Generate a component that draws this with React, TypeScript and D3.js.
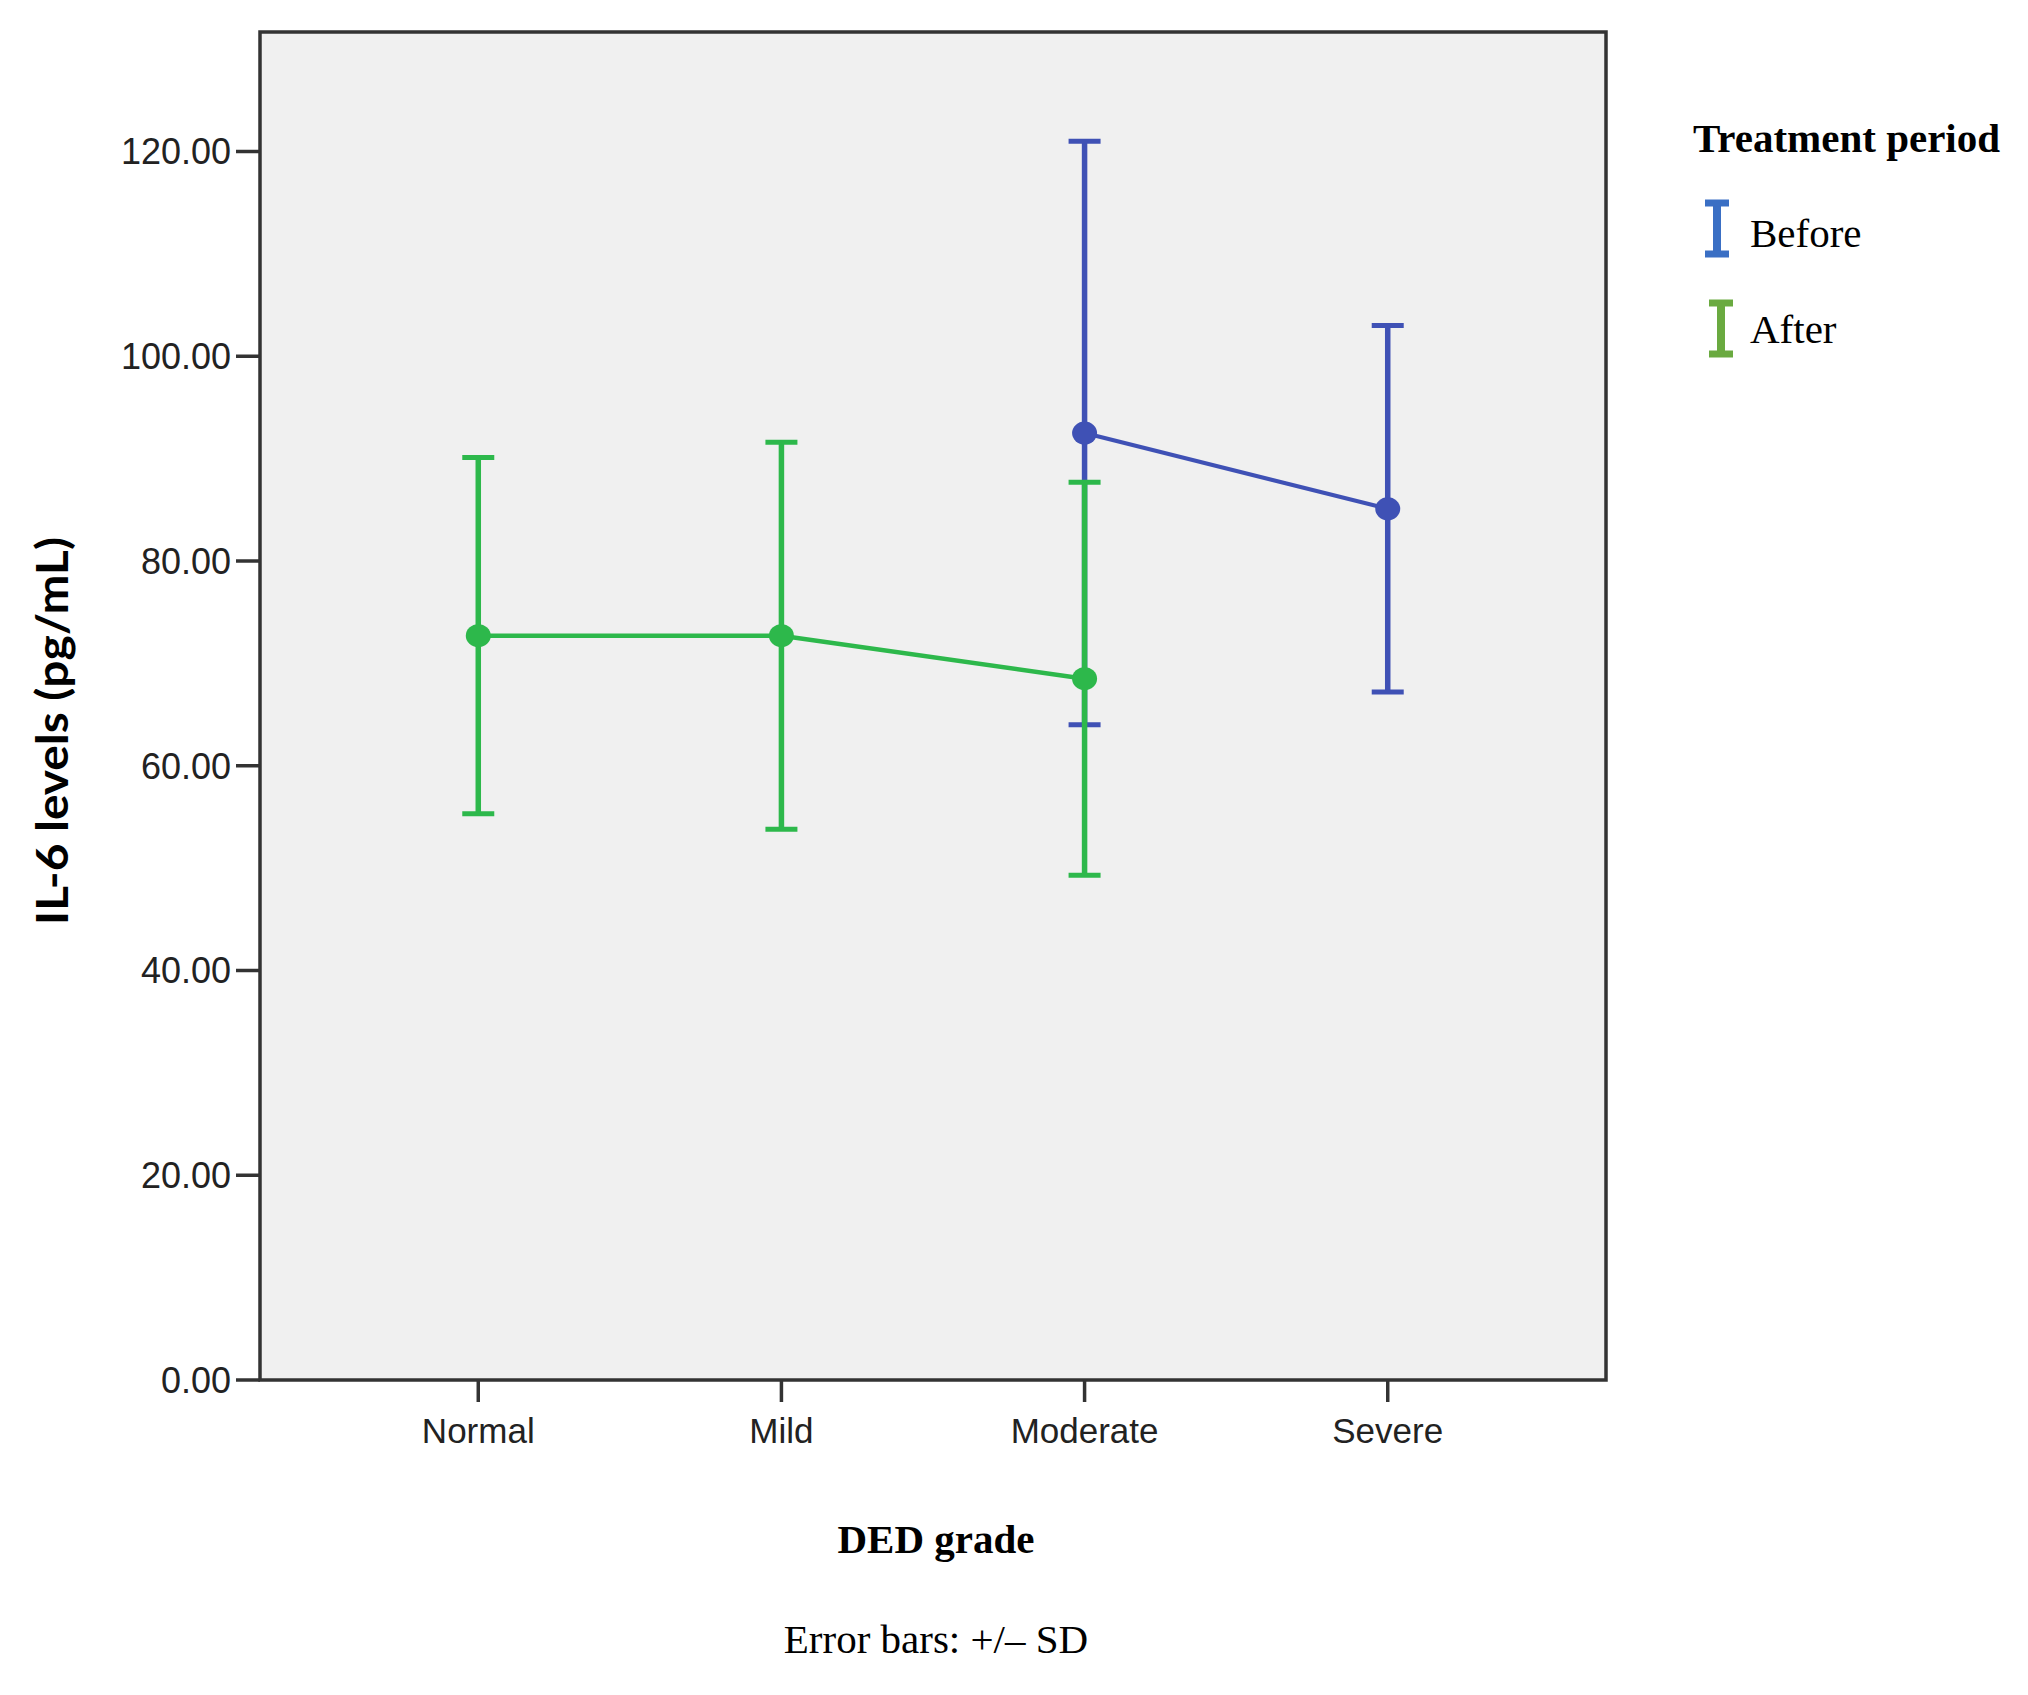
import React from "react";
import * as d3 from "d3";

const categories = ["Normal", "Mild", "Moderate", "Severe"];
const yTicks = [0, 20, 40, 60, 80, 100, 120];

// Treatment period: Before (only Moderate, Severe)
const beforeCats = ["Moderate", "Severe"];
const beforeMean = [92.5, 85.1];
const beforeSD = [28.5, 17.9];

// Treatment period: After
const afterCats = ["Normal", "Mild", "Moderate"];
const afterMean = [72.7, 72.7, 68.5];
const afterSD = [17.4, 18.9, 19.2];

const legendLabels = ["Before", "After"];

const W = 2028;
const H = 1695;
const plotLeft = 260;
const plotRight = 1606;
const plotTop = 32;
const plotBottom = 1380;

const BLUE = "#3F51B5";
const GREEN = "#2DB84B";
const LEG_BLUE = "#3A6FC4";
const LEG_GREEN = "#6AAA40";

export default function App() {
  const x = d3.scalePoint<string>().domain(categories).range([plotLeft, plotRight]).padding(0.72);
  const y = d3.scaleLinear().domain([0, 120]).range([plotBottom, 151.5]);
  const line = d3
    .line<[number, number]>()
    .x((d) => d[0])
    .y((d) => d[1]);

  const series = [
    { cats: beforeCats, mean: beforeMean, sd: beforeSD, color: BLUE, lw: 4 },
    { cats: afterCats, mean: afterMean, sd: afterSD, color: GREEN, lw: 4.5 },
  ];
  const capHalf = 16;

  return (
    <svg width={W} height={H} style={{ position: "absolute", left: 0, top: 0, background: "#fff" }}>
      <rect x={plotLeft} y={plotTop} width={plotRight - plotLeft} height={plotBottom - plotTop} fill="#F0F0F0" />
      {series.map((s, si) => (
        <g key={si}>
          <path
            d={line(s.cats.map((c, i) => [x(c)!, y(s.mean[i])]))!}
            fill="none"
            stroke={s.color}
            strokeWidth={s.lw}
          />
          {s.cats.map((c, i) => {
            const cx = x(c)!;
            const hi = y(s.mean[i] + s.sd[i]);
            const lo = y(s.mean[i] - s.sd[i]);
            return (
              <g key={c}>
                <line x1={cx} x2={cx} y1={hi} y2={lo} stroke={s.color} strokeWidth={5.5} />
                <line x1={cx - capHalf} x2={cx + capHalf} y1={hi} y2={hi} stroke={s.color} strokeWidth={5} />
                <line x1={cx - capHalf} x2={cx + capHalf} y1={lo} y2={lo} stroke={s.color} strokeWidth={5} />
                <ellipse cx={cx} cy={y(s.mean[i])} rx={12.5} ry={11.5} fill={s.color} />
              </g>
            );
          })}
        </g>
      ))}
      <rect
        x={plotLeft}
        y={plotTop}
        width={plotRight - plotLeft}
        height={plotBottom - plotTop}
        fill="none"
        stroke="#333"
        strokeWidth={3.5}
      />
      {/* Y axis ticks */}
      {yTicks.map((t) => (
        <g key={t}>
          <line x1={plotLeft - 24} x2={plotLeft} y1={y(t)} y2={y(t)} stroke="#333" strokeWidth={3.5} />
          <text
            x={plotLeft - 29}
            y={y(t)}
            dy="0.36em"
            textAnchor="end"
            fontFamily="'Liberation Sans', Arial, sans-serif"
            fontSize={36}
            fill="#222"
          >
            {t.toFixed(2)}
          </text>
        </g>
      ))}
      {/* X axis ticks */}
      {categories.map((c) => (
        <g key={c}>
          <line x1={x(c)!} x2={x(c)!} y1={plotBottom} y2={plotBottom + 22} stroke="#333" strokeWidth={3.5} />
          <text
            x={x(c)!}
            y={1443}
            textAnchor="middle"
            fontFamily="'Liberation Sans', Arial, sans-serif"
            fontSize={35}
            fill="#222"
          >
            {c}
          </text>
        </g>
      ))}
      {/* Y title */}
      <text
        transform={`translate(68, 731) rotate(-90)`}
        textAnchor="middle"
        fontFamily="Lato, 'Liberation Sans', sans-serif"
        fontWeight="bold"
        fontSize={43}
        fill="#000"
        textLength={388}
        lengthAdjust="spacingAndGlyphs"
      >
        IL-6 levels (pg/mL)
      </text>
      {/* X title */}
      <text
        x={936}
        y={1553}
        textAnchor="middle"
        fontFamily="'Liberation Serif', 'Times New Roman', serif"
        fontWeight="bold"
        fontSize={41}
        fill="#000"
      >
        DED grade
      </text>
      <text
        x={936}
        y={1653}
        textAnchor="middle"
        fontFamily="'Liberation Serif', 'Times New Roman', serif"
        fontSize={41}
        fill="#000"
      >
        Error bars: +/– SD
      </text>
      {/* Legend */}
      <text
        x={1693}
        y={152}
        fontFamily="'Liberation Serif', 'Times New Roman', serif"
        fontWeight="bold"
        fontSize={41}
        fill="#000"
      >
        Treatment period
      </text>
      {legendLabels.map((lab, i) => {
        const col = i === 0 ? LEG_BLUE : LEG_GREEN;
        const cx = i === 0 ? 1717 : 1721;
        const top = i === 0 ? 203 : 303;
        const bot = top + 51;
        return (
          <g key={lab}>
            <line x1={cx} x2={cx} y1={top} y2={bot} stroke={col} strokeWidth={8} />
            <line x1={cx - 12} x2={cx + 12} y1={top} y2={top} stroke={col} strokeWidth={7} />
            <line x1={cx - 12} x2={cx + 12} y1={bot} y2={bot} stroke={col} strokeWidth={7} />
            <text
              x={1750}
              y={i === 0 ? 247 : 343}
              fontFamily="'Liberation Serif', 'Times New Roman', serif"
              fontSize={41}
              fill="#000"
            >
              {lab}
            </text>
          </g>
        );
      })}
    </svg>
  );
}
